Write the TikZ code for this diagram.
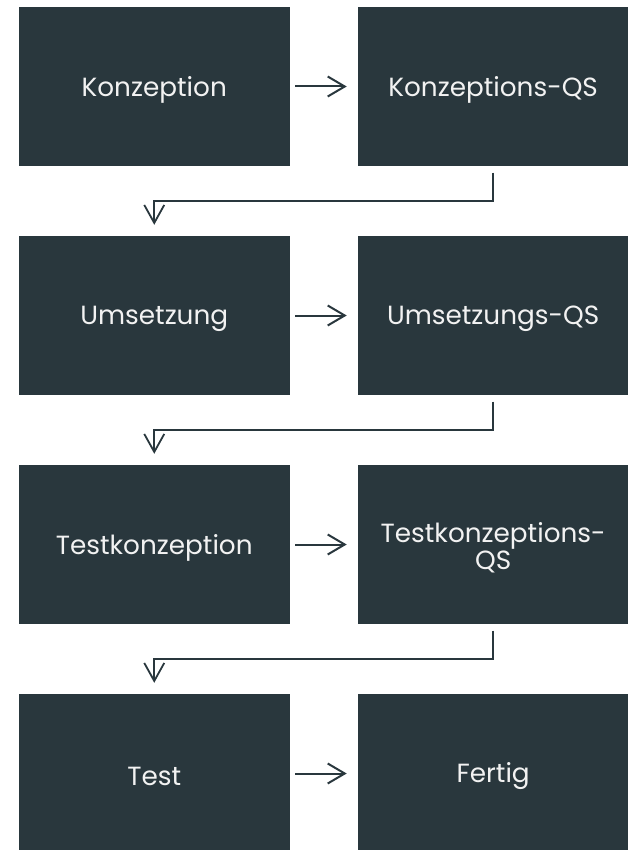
\documentclass[tikz,border=0pt]{standalone}
\usepackage{fontspec}
\setmainfont{Poppins}
\usetikzlibrary{arrows.meta}
\definecolor{slate}{HTML}{29373D}
\definecolor{paper}{HTML}{F2F2F2}
\tikzset{
  stage/.style={fill=slate, draw=none, minimum width=270.5pt, minimum height=159pt,
    inner sep=0pt, text=paper, align=center,
    font=\fontsize{26.3pt}{27pt}\selectfont},
  caption/.style={text=paper, align=center, inner sep=0pt,
    font=\fontsize{26.3pt}{27pt}\selectfont},
  flow/.style={draw=slate, line width=2pt,
    -{Straight Barb[length=17pt, width=20pt, line width=2pt]}},
  back/.style={draw=slate, line width=1.8pt, line join=miter,
    -{Straight Barb[length=18pt, width=20pt, line width=1.8pt]}}
}
\begin{document}
\begin{tikzpicture}[x=1pt, y=-1pt]
  \useasboundingbox (0,0) rectangle (632,850);
  \begin{scope}
    \clip (0,0) rectangle (632,850);
    % stages, left and right column
    \node[stage] (k)  at (154.25, 86.5)  {};
    \node[stage] (kq) at (493.15, 86.5)  {};
    \node[stage] (u)  at (154.25, 315.5) {};
    \node[stage] (uq) at (493.15, 315.5) {};
    \node[stage] (t)  at (154.25, 544.5) {};
    \node[stage] (tq) at (493.15, 544.5) {};
    \node[stage] (x)  at (154.25, 773.5) {};
    \node[stage] (f)  at (493.15, 773.5) {};
  \end{scope}
  % stage labels, set slightly below the box centre
  \foreach \n/\txt in {k/Konzeption, kq/Konzeptions-QS, u/Umsetzung,
      uq/Umsetzungs-QS, t/Testkonzeption, tq/{Testkonzeptions-\\QS},
      x/Test, f/Fertig}
    \node[caption] (\n-label) at ([yshift=-3pt]\n.center) {\txt};
  % forward arrows within a row
  \foreach \a/\b in {k/kq, u/uq, t/tq, x/f}
    \draw[flow] ([xshift=5.5pt]\a.east) -- ([xshift=-11pt]\b.west);
  % return arrows to the next row
  \foreach \a/\b in {kq/u, uq/t, tq/x}
    \draw[back] ([yshift=-6.5pt]\a.south) -- ++(0,-28pt) -| ([yshift=11pt]\b.north);
\end{tikzpicture}
\end{document}
